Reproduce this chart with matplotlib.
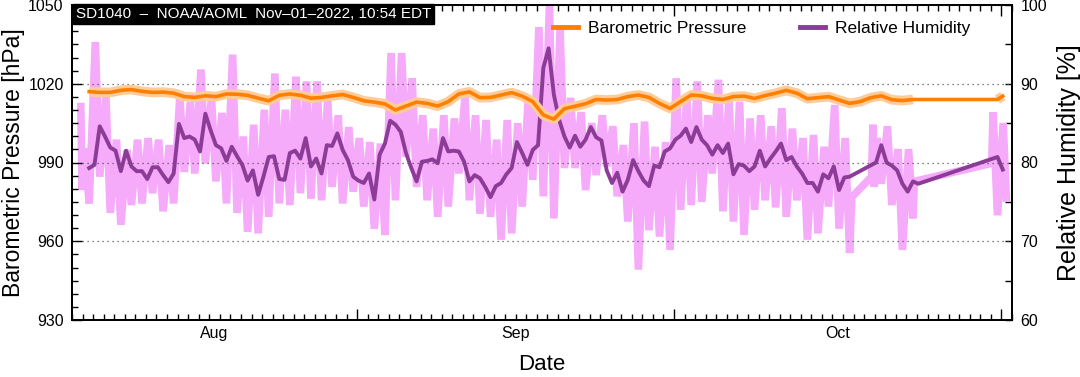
import numpy as np
import pandas as pd
import matplotlib
matplotlib.use('Agg')
import matplotlib.pyplot as plt
import matplotlib.dates as mdates
import matplotlib.transforms as mtransforms
from matplotlib.ticker import MultipleLocator, NullFormatter
from matplotlib.lines import Line2D

plt.rcParams['font.family'] = ['Liberation Sans', 'DejaVu Sans']

# --- smoothed relative humidity [%], 12-hourly, three pieces (data gaps between)
rh_smooth_a = [
    79.3, 79.7, 84.6, 83.3, 81.9, 81.5, 78.9, 81.5, 79.5, 78.9,
    78.9, 77.9, 79.4, 79.4, 78.4, 77.5, 78.6, 84.9, 83.1, 83.3,
    82.9, 81.4, 86.2, 84.1, 82.2, 81.8, 80.2, 82.0, 80.8, 79.7,
    77.7, 79.0, 75.9, 78.2, 80.7, 80.8, 77.9, 77.8, 81.2, 81.5,
    80.5, 83.1,
    79.5, 80.5, 78.6, 82.2, 82.1, 83.7, 81.6, 80.3, 78.2, 77.7,
    77.4, 78.6, 75.3, 81.0, 82.4, 85.3, 84.8, 83.9, 81.2, 79.3,
    77.6, 80.1, 80.2, 80.4, 79.9, 83.1, 81.4, 81.5, 81.4, 80.1,
    77.6, 78.4, 78.0, 76.9, 75.6, 77.0, 77.4, 78.5, 79.3, 82.6,
    81.2, 79.7, 81.6,
    82.2, 92.0, 94.5, 88.6, 85.4, 83.3, 81.9, 83.4, 82.0, 82.9,
    84.5, 83.2, 82.8, 79.0, 77.4, 78.7, 76.3, 77.8, 80.3, 78.9,
    77.7, 77.0, 79.6, 79.4, 81.4, 81.8, 82.9, 83.4, 84.3, 82.6,
    84.5, 82.9, 82.2, 81.0, 82.2, 81.2, 82.4, 78.5, 79.8, 79.6,
    78.9, 79.5, 81.5, 79.5, 80.5,
    81.4, 82.4, 80.3, 80.7, 79.5, 78.6, 77.4, 77.4, 76.3, 78.5,
    78.0, 79.5, 76.5, 78.1, 78.2,
]
rh_smooth_b = [80.0, 82.2, 80.0, 79.6, 79.0, 77.3, 76.3, 77.6, 77.3]
rh_smooth_c = [80.7, 79.1]
rh_starts = ['2022-08-06 15:00', '2022-10-20 03:00', '2022-10-31 15:00']

# --- smoothed barometric pressure [hPa], daily
bp_smooth = [
    1017.0, 1016.7, 1016.7, 1017.5, 1017.8, 1017.1, 1016.7, 1016.8, 1016.4, 1015.1,
    1014.8, 1015.4, 1015.1, 1016.1, 1016.0, 1015.6, 1014.5, 1013.5, 1015.6, 1016.1,
    1015.6, 1014.5, 1014.8, 1015.4, 1015.9, 1014.8, 1013.5, 1013.0, 1012.3, 1010.0,
    1011.5, 1013.0, 1012.5, 1011.5, 1013.2, 1016.1, 1016.9, 1014.7, 1014.8, 1015.7,
    1016.6, 1015.3, 1013.2, 1008.1, 1006.5, 1010.5, 1011.4, 1012.4, 1014.0, 1013.8,
    1014.0, 1015.1, 1015.7, 1014.8, 1012.5, 1010.6, 1013.2, 1015.7, 1015.4, 1014.4,
    1014.0, 1015.1, 1015.3, 1014.4, 1015.5, 1016.4, 1017.5, 1016.4, 1014.3, 1014.7,
    1015.1, 1013.8, 1012.5, 1013.2, 1014.7, 1015.4, 1013.9, 1013.6, 1014.0,
]
bp_start = '2022-08-06 15:00'
bp_tail = [1014.0, 1015.3]
bp_tail_times = ['2022-10-31 15:00', '2022-11-01 03:00']

# --- raw relative humidity: daily high / low [%] for the full days
rh_days = list(pd.date_range('2022-08-06', '2022-10-23')
               .drop([pd.Timestamp('2022-10-18'), pd.Timestamp('2022-10-19')]))
rh_days += [pd.Timestamp('2022-10-31')]
rh_hi = [
    81.8, 95.3, 88.4, 82.9, 81.6, 82.9, 83.1, 82.9, 82.2,
    88.4, 87.7, 91.8, 88.2, 86.3, 93.7, 83.3, 84.8, 86.7, 91.3,
    86.7, 90.9, 90.3, 90.3, 88.0, 86.0, 84.5, 83.1, 82.6, 82.4,
    93.9, 93.9, 90.7, 86.0, 84.3, 86.0, 85.6, 88.4, 86.0, 85.4,
    82.9, 85.4, 85.0, 88.4, 97.2, 100.0, 97.0, 88.2, 86.4, 85.0,
    86.0, 84.6, 82.2, 85.0, 85.2, 82.0, 82.6, 90.7, 88.4, 90.3,
    86.0, 90.5, 88.4, 87.7, 85.6, 86.0, 84.6, 86.9, 84.3, 83.1,
    83.5, 82.0, 87.3, 83.1, 83.1, 84.6, 81.7, 81.7,
    86.4,
]
rh_lo = [
    74.8, 78.2, 73.6, 72.1, 74.6, 74.8, 76.1, 73.8, 74.8,
    78.8, 78.6, 79.9, 77.6, 74.8, 73.6, 71.2, 71.0, 73.1, 74.8,
    74.6, 76.1, 75.4, 75.2, 76.9, 74.8, 76.3, 74.4, 71.6, 70.8,
    75.2, 80.7, 76.9, 75.2, 73.1, 74.4, 78.6, 75.2, 73.5, 73.1,
    70.2, 71.0, 74.4, 77.8, 75.7, 72.9, 79.3, 79.3, 76.5, 78.4,
    79.5, 75.7, 72.5, 66.4, 71.4, 70.6, 68.9, 74.0, 74.6, 75.0,
    78.6, 73.8, 72.5, 70.8, 74.0, 75.2, 74.3, 73.1, 75.2, 70.2,
    71.0, 74.4, 71.6, 68.5, 77.3, 74.6, 68.9, 72.9,
    73.3,
]
# single readings at the ends of the record and around the gaps
rh_edge_times = ['2022-08-05 20:00', '2022-08-05 23:00',
                 '2022-10-17 20:00', '2022-10-19 17:00', '2022-10-19 20:00', '2022-10-19 23:00',
                 '2022-10-23 18:00', '2022-10-31 02:00',
                 '2022-11-01 04:00', '2022-11-01 11:00']
rh_edge_vals = [87.1, 76.5,
                75.6, 78.2, 84.8, 76.9,
                77.6, 79.9,
                85.0, 75.5]

month_names = ['Aug', 'Sep', 'Oct']
title = 'SD1040  \u2013  NOAA/AOML  Nov\u201301\u20132022, 10:54 EDT'

# time axes for the series
rh_segs = [rh_smooth_a, rh_smooth_b, rh_smooth_c]
t_rh = pd.DatetimeIndex([])
for s, seg in zip(rh_starts, rh_segs):
    t_rh = t_rh.append(pd.date_range(s, periods=len(seg), freq='12h'))
rh_smooth = np.concatenate(rh_segs)

t_bp = pd.date_range(bp_start, periods=len(bp_smooth), freq='D').append(pd.DatetimeIndex(bp_tail_times))
bp = np.array(bp_smooth + bp_tail)
n_bp = len(bp_smooth)

raw = [(pd.Timestamp(t), v) for t, v in zip(rh_edge_times, rh_edge_vals)]
for day, hi, lo in zip(rh_days, rh_hi, rh_lo):
    raw += [(day + pd.Timedelta(hours=5), hi), (day + pd.Timedelta(hours=15), lo)]
raw.sort(key=lambda p: p[0])
t_raw = [p[0] for p in raw]
rh_raw = [p[1] for p in raw]

c_pink = '#F5AAFA'
c_purple = '#8C3C96'
c_orange = '#FF7F00'
c_band = '#FFCC99'

fig = plt.figure(figsize=(10.8, 3.77), dpi=100)
ax_rh = fig.add_axes([72 / 1080, 57 / 377, 940 / 1080, 315 / 377])
ax_bp = ax_rh.twinx()

ax_rh.plot(t_raw, rh_raw, color=c_pink, lw=5.5, solid_joinstyle='miter')
ax_rh.plot(t_rh, rh_smooth, color=c_purple, lw=2.8)

ax_bp.plot(t_bp[:n_bp], bp[:n_bp], color=c_band, lw=7, solid_capstyle='butt')
ax_bp.plot(t_bp[n_bp:], bp[n_bp:], color=c_band, lw=7, solid_capstyle='butt')
ax_bp.plot(t_bp, bp, color=c_orange, lw=2.6)

ax_rh.set_ylim(60, 100)
ax_bp.set_ylim(930, 1050)
x0, x1 = pd.Timestamp('2022-08-05'), pd.Timestamp('2022-11-02')
ax_rh.set_xlim(x0, x1)

# axes sides: pressure on the left, humidity on the right
ax_rh.yaxis.tick_right()
ax_rh.yaxis.set_label_position('right')
ax_bp.yaxis.tick_left()
ax_bp.yaxis.set_label_position('left')

ax_bp.yaxis.set_major_locator(MultipleLocator(30))
ax_bp.yaxis.set_minor_locator(MultipleLocator(5))
ax_rh.yaxis.set_major_locator(MultipleLocator(10))
ax_rh.yaxis.set_minor_locator(MultipleLocator(5))
ax_bp.tick_params(axis='y', which='both', direction='in', labelsize=11.5, pad=6)
ax_bp.tick_params(axis='y', which='major', length=7, width=1)
ax_bp.tick_params(axis='y', which='minor', length=4, width=1)
ax_rh.tick_params(axis='y', which='both', direction='in', labelsize=11.5, pad=6, length=5, width=1)

ax_rh.xaxis.set_major_locator(mdates.MonthLocator())
ax_rh.xaxis.set_minor_locator(mdates.DayLocator())
ax_rh.xaxis.set_major_formatter(NullFormatter())
ax_rh.tick_params(axis='x', which='both', direction='in', top=True, width=1)
ax_rh.tick_params(axis='x', which='major', length=8)
ax_rh.tick_params(axis='x', which='minor', length=4)

# month names centred on the visible part of each month
trans = mtransforms.blended_transform_factory(ax_rh.transData, ax_rh.transAxes)
for i, name in enumerate(month_names):
    m0 = pd.Timestamp(2022, 8 + i, 1)
    m1 = pd.Timestamp(2022, 9 + i, 1)
    a, b = max(m0, x0), min(m1, x1)
    mid = a + (b - a) / 2
    ax_rh.text(mdates.date2num(mid), -0.02, name, transform=trans,
               ha='center', va='top', fontsize=11.5)

ax_bp.yaxis.grid(True, which='major', ls=(0, (1, 3)), color='#555555', lw=0.9)

for ax in (ax_rh, ax_bp):
    for sp in ax.spines.values():
        sp.set_linewidth(1.3)

ax_bp.set_ylabel('Barometric Pressure [hPa]', fontsize=16.5, labelpad=2)
ax_rh.set_ylabel('Relative Humidity [%]', fontsize=18, labelpad=7)
ax_rh.set_xlabel('Date', fontsize=16, labelpad=21)

ax_bp.text(0.004, 0.994, title, transform=ax_bp.transAxes, va='top', ha='left',
           color='white', fontsize=11,
           bbox=dict(boxstyle='square,pad=0.2', fc='black', ec='black'))

handles = [Line2D([], [], color=c_orange, lw=3.5), Line2D([], [], color=c_purple, lw=3.5)]
ax_bp.legend(handles, ['Barometric Pressure', 'Relative Humidity'],
             loc='upper left', bbox_to_anchor=((553 - 72) / 940, 0.95),
             ncol=2, frameon=False, fontsize=12.5, handlelength=1.45,
             handletextpad=0.55, columnspacing=3.1, borderpad=0, borderaxespad=0)

fig.savefig('out.png', dpi=100)
